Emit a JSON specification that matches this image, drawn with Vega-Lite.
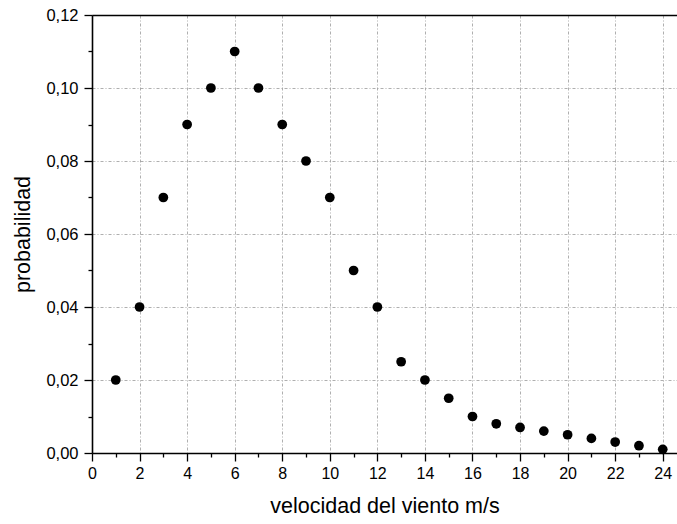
{
  "$schema": "https://vega.github.io/schema/vega-lite/v6.json",
  "autosize": {"type": "none"},
  "padding": {"left": 92, "top": 15, "right": 0, "bottom": 71},
  "width": 585,
  "height": 438,
  "background": "white",
  "config": {
    "view": {"stroke": null},
    "font": "Liberation Sans",
    "axis": {"labelFont": "Liberation Sans", "titleFont": "Liberation Sans", "labelColor": "black", "titleColor": "black", "domainColor": "black", "tickColor": "black"}
  },
  "data": {"values": [
    {"v": 1, "p": 0.02}, {"v": 2, "p": 0.04}, {"v": 3, "p": 0.07}, {"v": 4, "p": 0.09},
    {"v": 5, "p": 0.10}, {"v": 6, "p": 0.11}, {"v": 7, "p": 0.10}, {"v": 8, "p": 0.09},
    {"v": 9, "p": 0.08}, {"v": 10, "p": 0.07}, {"v": 11, "p": 0.05}, {"v": 12, "p": 0.04},
    {"v": 13, "p": 0.025}, {"v": 14, "p": 0.02}, {"v": 15, "p": 0.015}, {"v": 16, "p": 0.01},
    {"v": 17, "p": 0.008}, {"v": 18, "p": 0.007}, {"v": 19, "p": 0.006}, {"v": 20, "p": 0.005},
    {"v": 21, "p": 0.004}, {"v": 22, "p": 0.003}, {"v": 23, "p": 0.002}, {"v": 24, "p": 0.001}
  ]},
  "layer": [
    {
      "mark": {"type": "point", "opacity": 0},
      "encoding": {
        "x": {"field": "v", "type": "quantitative", "scale": {"domain": [0, 24.6], "nice": false, "zero": false},
          "axis": {"orient": "bottom", "values": [1,3,5,7,9,11,13,15,17,19,21,23], "labels": false, "domain": false, "grid": false, "tickSize": 4, "tickWidth": 1.3, "title": null}},
        "y": {"field": "p", "type": "quantitative", "scale": {"domain": [0, 0.12], "nice": false},
          "axis": {"orient": "left", "values": [0.01, 0.03, 0.05, 0.07, 0.09, 0.11], "labels": false, "domain": false, "grid": false, "tickSize": 4, "tickWidth": 1.3, "title": null}}
      }
    },
    {
      "mark": {"type": "point", "opacity": 0},
      "encoding": {
        "x": {"field": "v", "type": "quantitative", "scale": {"domain": [0, 24.6], "nice": false, "zero": false},
          "axis": {"orient": "top", "labels": false, "ticks": false, "grid": false, "domain": true, "domainWidth": 1.6, "title": null}}
      }
    },
    {
      "mark": {"type": "circle", "color": "black", "opacity": 1, "size": 95},
      "encoding": {
        "x": {"field": "v", "type": "quantitative", "scale": {"domain": [0, 24.6], "nice": false, "zero": false},
          "axis": {"orient": "bottom", "values": [0,2,4,6,8,10,12,14,16,18,20,22,24], "title": "velocidad del viento m/s", "titleFontSize": 21.5, "titleFontWeight": "normal", "titlePadding": 14, "labelFontSize": 16, "labelPadding": 4, "tickSize": 8, "tickWidth": 1.3, "domainWidth": 1.6, "grid": true, "gridColor": "#9a9a9a", "gridDash": [3, 2, 1, 2], "gridWidth": 0.8, "labelFlush": false}},
        "y": {"field": "p", "type": "quantitative", "scale": {"domain": [0, 0.12], "nice": false},
          "axis": {"orient": "left", "values": [0, 0.02, 0.04, 0.06, 0.08, 0.10, 0.12], "labelExpr": "replace(format(datum.value, '.2f'), '.', ',')", "title": "probabilidad", "titleFontSize": 21.5, "titleFontWeight": "normal", "titlePadding": 11, "labelFontSize": 16.5, "labelPadding": 6, "tickSize": 8, "tickWidth": 1.3, "domainWidth": 1.6, "grid": true, "gridColor": "#9a9a9a", "gridDash": [3, 2, 1, 2], "gridWidth": 0.8, "labelFlush": false}}
      }
    }
  ],
  "resolve": {"axis": {"x": "independent", "y": "independent"}}
}
